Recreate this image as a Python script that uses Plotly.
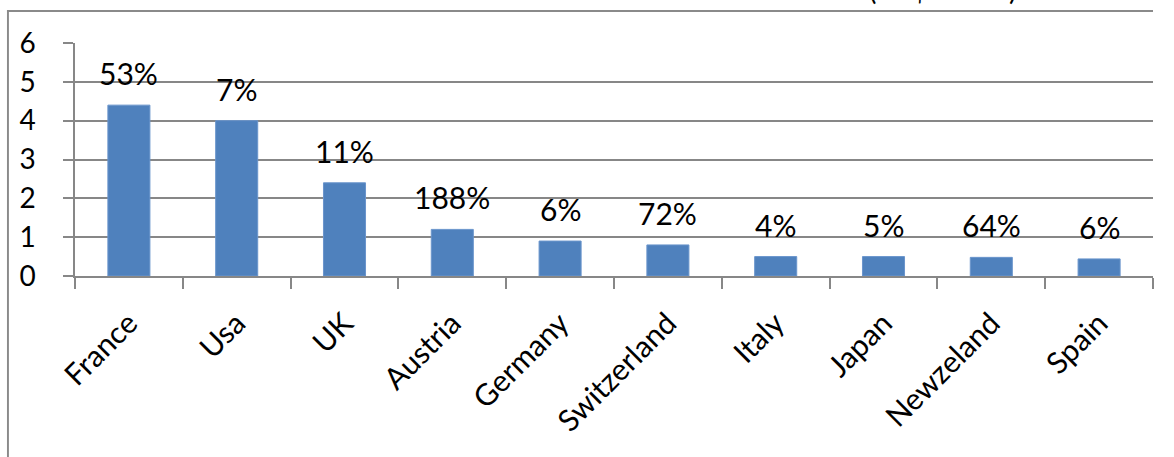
import plotly.graph_objects as go

countries = ["France", "Usa", "UK", "Austria", "Germany", "Switzerland", "Italy", "Japan", "Newzeland", "Spain"]
values = [4.4, 4.0, 2.4, 1.2, 0.9, 0.8, 0.5, 0.5, 0.48, 0.44]
growth_labels = ["53%", "7%", "11%", "188%", "6%", "72%", "4%", "5%", "64%", "6%"]
y_ticks = [0, 1, 2, 3, 4, 5, 6]

FONT = "Lato, Carlito, Calibri, sans-serif"
GRID = "#878787"

fig = go.Figure()
fig.add_trace(go.Bar(
    x=countries, y=values,
    marker=dict(color="#4F81BD", line=dict(color="#6A95CC", width=1)),
    width=0.39,
    hoverinfo="x+y",
))

for c, v, t in zip(countries, values, growth_labels):
    fig.add_annotation(x=c, y=v, text=t, showarrow=False, yanchor="bottom",
                       yshift=12, font=dict(family=FONT, size=30, color="#000000"))

# cut-off unit caption at the top right
fig.add_annotation(xref="paper", yref="paper", x=0.876, y=1.152, text="(US$ billion)",
                   showarrow=False, yanchor="bottom",
                   font=dict(family=FONT, size=28, color="#000000"))

# outer chart border (top and left edges visible, others beyond the page)
fig.add_shape(type="rect", xref="paper", yref="paper", x0=-0.0631, x1=1.0, y0=1.1335, y1=1.142,
              line=dict(width=0), fillcolor="#8A8A8A", layer="above")
fig.add_shape(type="rect", xref="paper", yref="paper", x0=-0.0631, x1=-0.0613, y0=1.142, y1=-0.8,
              line=dict(width=0), fillcolor="#8A8A8A", layer="above")

fig.update_layout(
    width=1174, height=457,
    margin=dict(l=75, r=21, t=43, b=181, autoexpand=False),
    paper_bgcolor="white", plot_bgcolor="white",
    showlegend=False,
    font=dict(family=FONT, size=28, color="#000000"),
)
fig.update_xaxes(
    type="category", showline=True, linecolor=GRID, linewidth=1.5,
    ticks="outside", tickson="boundaries", ticklen=11, tickcolor=GRID, tickwidth=1.5,
    tickangle=-45, tickfont=dict(family=FONT, size=30), automargin=False,
    showgrid=False, ticklabelstandoff=16,
)
fig.update_yaxes(
    range=[0, 6], tickvals=y_ticks, showline=True, linecolor=GRID, linewidth=1.5,
    ticks="outside", ticklen=10, tickcolor=GRID, tickwidth=1.5,
    showgrid=True, gridcolor=GRID, gridwidth=1.5, zeroline=False,
    tickfont=dict(family=FONT, size=28), ticklabelstandoff=22, automargin=False,
)

fig.write_html("out.html", config={"displayModeBar": False},
               post_script="document.body.style.margin='0px';")
